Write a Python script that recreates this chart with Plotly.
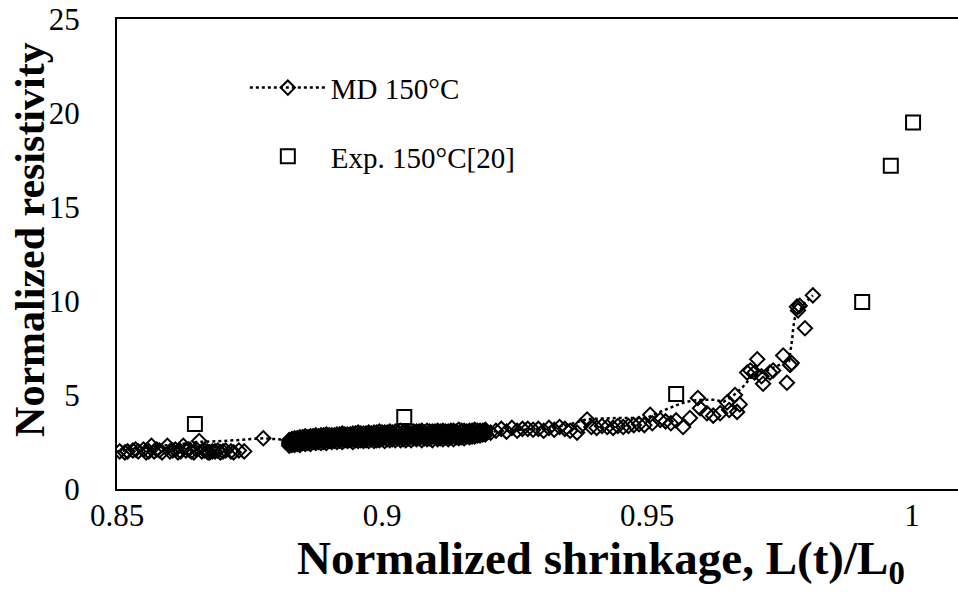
import plotly.graph_objects as go

# ---------------- data ----------------
# MD 150°C markers, left cluster
a_x = [0.8505, 0.852, 0.853, 0.854, 0.855, 0.856, 0.8565, 0.857, 0.858, 0.8595, 0.860, 0.861, 0.862,
       0.8625, 0.863, 0.864, 0.865, 0.8655, 0.866, 0.867, 0.8675, 0.868, 0.8685, 0.869, 0.870, 0.8715,
       0.873, 0.874, 0.8776]
a_y = [2.0, 2.0, 2.05, 2.0, 2.1, 2.0, 2.3, 2.0, 2.05, 2.3, 2.0, 2.1, 2.0,
       2.3, 2.05, 2.0, 2.1, 2.55, 2.0, 2.0, 1.95, 2.0, 2.0, 2.05, 2.0, 2.0,
       2.05, 2.0, 2.7]
a2_x = [0.8515, 0.8535, 0.8555, 0.8575, 0.8585, 0.8605, 0.8615, 0.8635, 0.8645, 0.8665, 0.8672, 0.8695,
        0.8705, 0.872]
a2_y = [1.95, 2.1, 1.95, 2.1, 1.95, 2.05, 1.95, 2.1, 1.95, 2.05, 1.95, 1.95, 2.05, 1.95]

# MD 150°C markers, dense band
band_x = [0.8825, 0.8835, 0.8845, 0.8855, 0.8865, 0.8875, 0.8885, 0.8895, 0.8905, 0.8915, 0.8925, 0.8935,
          0.8945, 0.8955, 0.8965, 0.8975, 0.8985, 0.8995, 0.9005, 0.9015, 0.9025, 0.9035, 0.9045, 0.9055,
          0.9065, 0.9075, 0.9085, 0.9095, 0.9105, 0.9115, 0.9125, 0.9135, 0.9145, 0.9155, 0.9165, 0.9175,
          0.9185, 0.9195]
band_top = [2.6, 2.7, 2.75, 2.8, 2.8, 2.85, 2.85, 2.9, 2.85, 2.9, 2.95, 2.9, 2.95, 3.0, 2.95, 3.0, 3.0,
            3.05, 3.0, 3.05, 3.05, 3.1, 3.05, 3.1, 3.05, 3.1, 3.1, 3.05, 3.1, 3.1, 3.05, 3.1, 3.15, 3.1,
            3.1, 3.15, 3.1, 3.15]
band_upmid = [2.5, 2.55, 2.6, 2.65, 2.65, 2.7, 2.7, 2.75, 2.7, 2.75, 2.8, 2.75, 2.8, 2.8, 2.8, 2.85, 2.85,
              2.85, 2.85, 2.9, 2.85, 2.9, 2.9, 2.9, 2.9, 2.95, 2.9, 2.9, 2.95, 2.95, 2.9, 2.95, 2.95, 2.95,
              2.95, 3.0, 3.0, 3.05]
band_lowmid = [2.4, 2.45, 2.5, 2.5, 2.55, 2.55, 2.6, 2.6, 2.6, 2.65, 2.65, 2.65, 2.65, 2.7, 2.7, 2.7, 2.7,
               2.7, 2.75, 2.75, 2.75, 2.75, 2.75, 2.8, 2.75, 2.8, 2.8, 2.8, 2.8, 2.8, 2.8, 2.85, 2.8, 2.85,
               2.85, 2.9, 2.9, 2.95]
band_low = [2.3, 2.35, 2.35, 2.4, 2.4, 2.45, 2.45, 2.45, 2.5, 2.5, 2.5, 2.55, 2.5, 2.55, 2.55, 2.55, 2.55,
            2.6, 2.55, 2.6, 2.6, 2.6, 2.6, 2.6, 2.65, 2.6, 2.65, 2.6, 2.65, 2.65, 2.65, 2.65, 2.7, 2.7,
            2.75, 2.8, 2.85, 2.9]
band2_x = [0.8830, 0.8840, 0.8850, 0.8860, 0.8870, 0.8880, 0.8890, 0.8900, 0.8910, 0.8920, 0.8930, 0.8940,
           0.8950, 0.8960, 0.8970, 0.8980, 0.8990, 0.9000, 0.9010, 0.9020, 0.9030, 0.9040, 0.9050, 0.9060,
           0.9070, 0.9080, 0.9090, 0.9100, 0.9110, 0.9120, 0.9130, 0.9140, 0.9150, 0.9160, 0.9170, 0.9180,
           0.9190]
band2_hi = [2.65, 2.7, 2.75, 2.75, 2.8, 2.8, 2.85, 2.85, 2.85, 2.9, 2.9, 2.9, 2.95, 2.95, 2.95, 2.95, 3.0,
            3.0, 3.0, 3.0, 3.0, 3.05, 3.0, 3.05, 3.05, 3.0, 3.05, 3.05, 3.05, 3.05, 3.1, 3.05, 3.1, 3.05,
            3.1, 3.1, 3.1]
band2_lo = [2.35, 2.4, 2.45, 2.45, 2.5, 2.5, 2.5, 2.55, 2.55, 2.55, 2.6, 2.6, 2.6, 2.6, 2.6, 2.65, 2.6,
            2.65, 2.65, 2.65, 2.7, 2.65, 2.7, 2.7, 2.7, 2.7, 2.7, 2.75, 2.7, 2.75, 2.75, 2.75, 2.75, 2.8,
            2.8, 2.85, 2.9]

# MD 150°C markers, middle stretch
c_x = [0.9205, 0.9215, 0.9225, 0.9235, 0.9245, 0.9255, 0.9265, 0.9275, 0.9285, 0.9295, 0.9305, 0.9315,
       0.9325, 0.9335, 0.9345, 0.9355, 0.9368, 0.9375, 0.9387, 0.9395, 0.9405, 0.9415, 0.9425, 0.9436,
       0.9445, 0.9455, 0.9465, 0.9475, 0.9485, 0.9495, 0.9506, 0.9510, 0.9525, 0.9535, 0.9545, 0.9555,
       0.9568]
c_y = [3.0, 3.1, 3.2, 3.05, 3.25, 3.1, 3.2, 3.2, 3.15, 3.2, 3.1, 3.25,
       3.15, 3.3, 3.2, 3.1, 3.0, 3.35, 3.7, 3.3, 3.25, 3.35, 3.3, 3.25,
       3.35, 3.3, 3.35, 3.4, 3.45, 3.4, 3.95, 3.5, 3.67, 3.6, 3.5, 3.65,
       3.3]

# MD 150°C markers, steep rise
d_x = [0.9581, 0.9596, 0.9600, 0.9613, 0.9625, 0.9638, 0.9651, 0.9655, 0.9666, 0.9670, 0.9675, 0.9689,
       0.9695, 0.9703, 0.9708, 0.9716, 0.9719, 0.9732, 0.9738, 0.9757, 0.9764, 0.9770, 0.9773, 0.9783,
       0.9785, 0.9788, 0.9798, 0.9813]
d_y = [3.78, 4.84, 4.3, 4.03, 3.9, 4.03, 4.6, 4.2, 5.0, 4.1, 4.5, 6.2,
       6.3, 6.2, 6.9, 6.0, 5.6, 6.2, 6.3, 7.1, 5.65, 6.6, 6.7, 9.7,
       9.5, 9.75, 8.55, 10.3]

# MD 150°C dotted curve
line_x = [0.850, 0.853, 0.857, 0.861, 0.865, 0.870, 0.8776, 0.8825, 0.890, 0.900, 0.910, 0.918, 0.923,
          0.930, 0.935, 0.9387, 0.945, 0.950, 0.952, 0.954, 0.9555, 0.957, 0.9585, 0.9605, 0.9625,
          0.9645, 0.966, 0.968, 0.9695, 0.971, 0.9725, 0.974, 0.9758, 0.9768, 0.9772, 0.9774, 0.9776,
          0.9779, 0.9786, 0.9798, 0.9813]
line_y = [2.0, 2.1, 2.3, 2.35, 2.5, 2.55, 2.7, 2.6, 2.7, 2.8, 2.9, 3.0, 3.1,
          3.2, 3.4, 3.72, 3.78, 3.78, 4.05, 4.3, 4.45, 4.6, 4.7, 4.75, 4.75,
          4.65, 4.9, 5.4, 5.9, 6.1, 6.3, 6.5, 6.7, 6.8, 7.5, 8.0, 8.6,
          9.1, 9.4, 9.9, 10.3]

# Experimental 150°C [20]
exp_x = [0.8647, 0.9042, 0.9555, 0.9906, 0.9960, 1.0002]
exp_y = [3.46, 3.83, 5.05, 9.95, 17.2, 19.5]

x_tickvals = [0.85, 0.9, 0.95, 1.0]
x_ticktext = ["0.85", "0.9", "0.95", "1"]
y_tickvals = [0, 5, 10, 15, 20, 25]
y_ticktext = ["0", "5", "10", "15", "20", "25"]
x_title = "<b>Normalized shrinkage, L(t)/L<sub>0</sub></b>"
y_title = "<b>Normalized resistivity</b>"

md_x = a_x + a2_x + band_x * 4 + band2_x * 2 + c_x + d_x
md_y = (a_y + a2_y + band_top + band_upmid + band_lowmid + band_low + band2_hi + band2_lo
        + c_y + d_y)

FONT = "Liberation Serif"
DIAMOND = dict(symbol="diamond-open", size=11, color="black", line=dict(width=2, color="black"))
DOTLINE = dict(color="black", width=2.5, dash="dot")

fig = go.Figure()
fig.add_trace(go.Scatter(x=line_x, y=line_y, mode="lines", showlegend=False,
                         hoverinfo="skip", line=DOTLINE))
fig.add_trace(go.Scatter(x=md_x, y=md_y, mode="markers", showlegend=False, marker=DIAMOND))
fig.add_trace(go.Scatter(x=[None], y=[None], mode="lines+markers", name="MD 150°C",
                         legendgroup="md", line=DOTLINE, marker=DIAMOND))
fig.add_trace(go.Scatter(
    x=exp_x, y=exp_y, mode="markers", name="Exp. 150°C[20]", legendgroup="exp",
    marker=dict(symbol="square-open", size=14, color="black", line=dict(width=2, color="black"))))

fig.update_layout(
    width=958, height=605,
    margin=dict(l=117, r=0, t=19, b=116, autoexpand=False),
    paper_bgcolor="white", plot_bgcolor="white",
    font=dict(family=FONT, color="black", size=31),
    legend=dict(x=0.152, y=0.908, xanchor="left", yanchor="top",
                bgcolor="rgba(0,0,0,0)", font=dict(size=29, family=FONT),
                traceorder="grouped", tracegroupgap=28, itemwidth=76),
    xaxis=dict(range=[0.85, 0.85 + 841 / 5300], showgrid=False, zeroline=False, automargin=False,
               showline=True, linecolor="black", linewidth=2, mirror=True,
               tickmode="array", tickvals=x_tickvals, ticktext=x_ticktext, ticks="",
               ticklabelstandoff=-2, ticklabeloverflow="allow",
               tickfont=dict(size=31, family=FONT)),
    yaxis=dict(range=[0, 25], showgrid=False, zeroline=False, automargin=False,
               showline=True, linecolor="black", linewidth=2, mirror=False,
               tickmode="array", tickvals=y_tickvals, ticktext=y_ticktext, ticks="",
               ticklabelstandoff=29, ticklabeloverflow="allow",
               tickfont=dict(size=31, family=FONT)),
    annotations=[
        dict(text=x_title, xref="paper", yref="paper", x=0.5755, y=-0.087,
             xanchor="center", yanchor="top", showarrow=False,
             font=dict(size=47, family=FONT, color="black")),
        dict(text=y_title, xref="paper", yref="paper", x=-0.1034, y=0.53, textangle=-90,
             xanchor="center", yanchor="middle", showarrow=False,
             font=dict(size=42, family=FONT, color="black")),
    ],
)

fig.write_html("out.html", config={"displayModeBar": False},
               post_script="document.body.style.margin='0px';")
